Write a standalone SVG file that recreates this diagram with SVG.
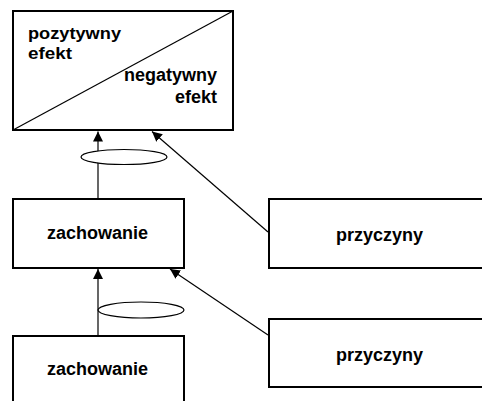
<svg xmlns="http://www.w3.org/2000/svg" width="482" height="401" viewBox="0 0 482 401">
<defs>
<style>
.box{fill:#fff;stroke:#000;stroke-width:2}
.lbl{font-family:"Liberation Sans",Arial,sans-serif;font-weight:bold;font-size:18px;fill:#000}
.sm{font-size:17px}
.con{stroke:#000;stroke-width:1.2;fill:none}
.ell{fill:#fff;stroke:#000;stroke-width:1.2}
</style>
<marker id="arr" markerUnits="userSpaceOnUse" markerWidth="12" markerHeight="10" refX="10" refY="5" orient="auto">
<path d="M0,0 L10,5 L0,10 Z" fill="#000"/>
</marker>
</defs>
<rect width="482" height="401" fill="#fff"/>
<g id="effect">
<rect class="box" x="13" y="11" width="220" height="119"/>
<line x1="13" y1="130" x2="233" y2="11" stroke="#000" stroke-width="1.2"/>
<text class="lbl sm" x="28" y="39" textLength="93" lengthAdjust="spacingAndGlyphs">pozytywny</text>
<text class="lbl sm" x="28" y="58.5" textLength="44" lengthAdjust="spacingAndGlyphs">efekt</text>
<text class="lbl" x="217" y="81" text-anchor="end">negatywny</text>
<text class="lbl" x="217" y="103" text-anchor="end">efekt</text>
</g>
<g id="behaviour1">
<rect class="box" x="13" y="199" width="171" height="69"/>
<text class="lbl" x="97.5" y="239" text-anchor="middle">zachowanie</text>
</g>
<g id="behaviour2">
<rect class="box" x="13" y="336" width="171" height="80"/>
<text class="lbl" x="97.5" y="375" text-anchor="middle">zachowanie</text>
</g>
<g id="cause1">
<rect class="box" x="269" y="199" width="230" height="69"/>
<text class="lbl" x="379.5" y="240.5" text-anchor="middle">przyczyny</text>
</g>
<g id="cause2">
<rect class="box" x="269" y="319" width="230" height="68"/>
<text class="lbl" x="379.5" y="360.5" text-anchor="middle">przyczyny</text>
</g>
<g id="connectors">
<line class="con" x1="98" y1="198" x2="98" y2="131.5" marker-end="url(#arr)"/>
<line class="con" x1="268" y1="232" x2="152" y2="131.5" marker-end="url(#arr)"/>
<line class="con" x1="98" y1="335" x2="98" y2="269" marker-end="url(#arr)"/>
<line class="con" x1="268" y1="335" x2="170" y2="269" marker-end="url(#arr)"/>
<ellipse class="ell" cx="124" cy="157" rx="43" ry="7.5"/>
<ellipse class="ell" cx="141" cy="310" rx="43" ry="8"/>
</g>
</svg>
